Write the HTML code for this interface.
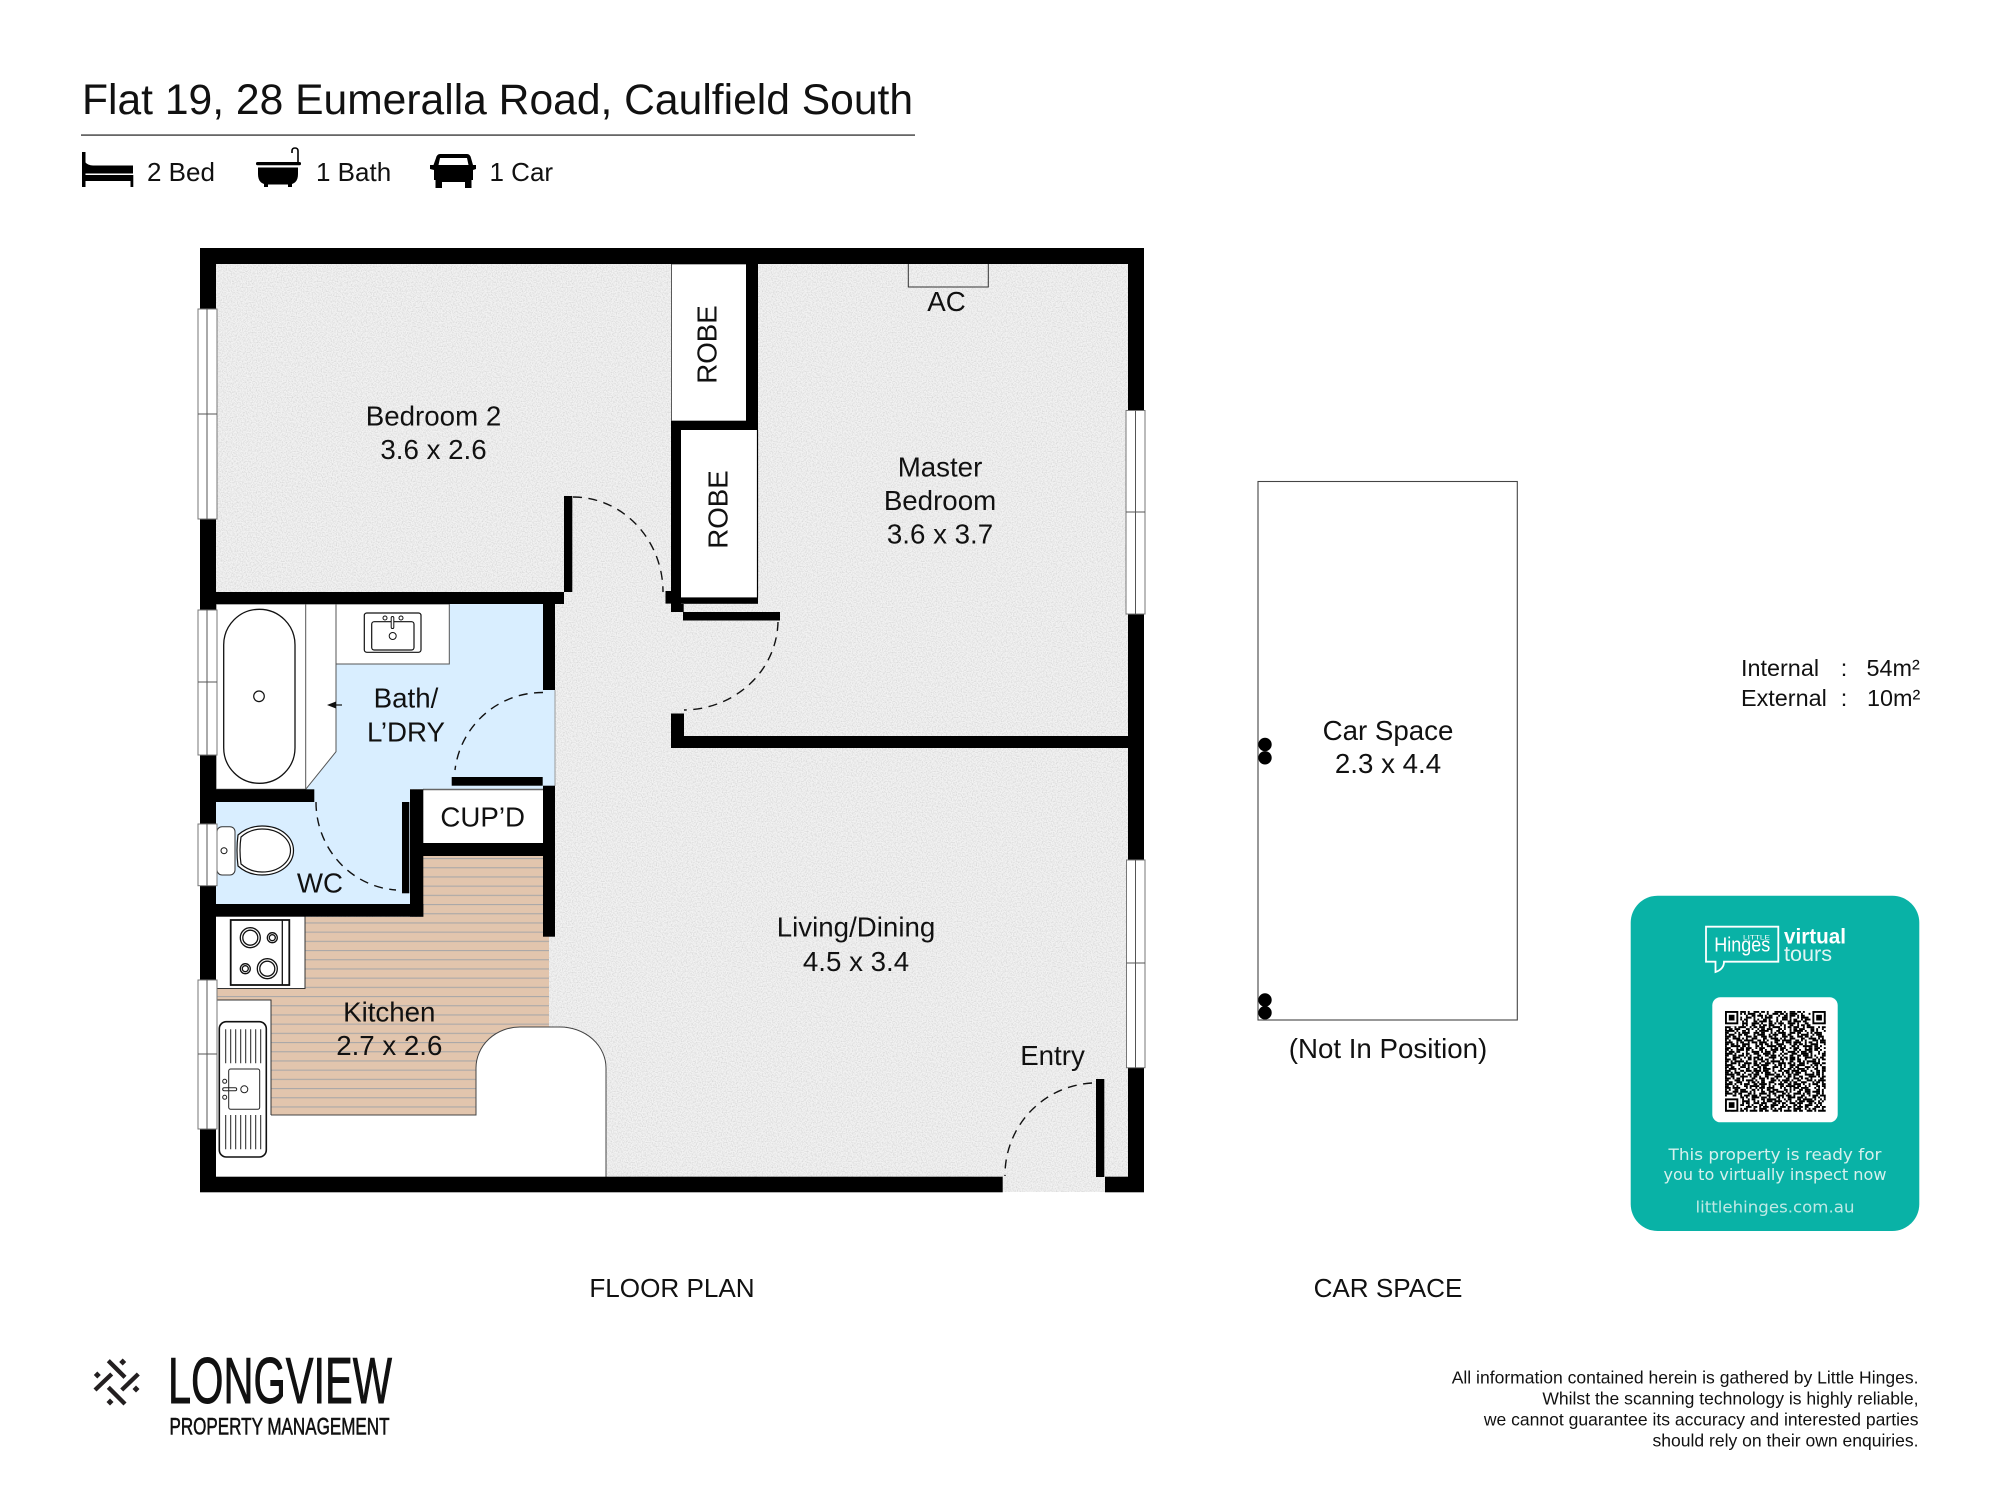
<!DOCTYPE html>
<html><head><meta charset="utf-8"><title>Flat 19, 28 Eumeralla Road</title>
<style>
html,body{margin:0;padding:0;background:#fff}
svg{display:block}
text{font-family:"Liberation Sans",Arial,sans-serif;fill:#111}
.l{font-size:27.7px;text-anchor:middle}
.d{fill:none;stroke:#111;stroke-width:1.4;stroke-dasharray:9 6.5}
.w{fill:#fff;stroke:#777;stroke-width:1}
.q path{fill:none;stroke:#000;stroke-width:1.02}
</style></head><body>
<svg width="2000" height="1500" viewBox="0 0 2000 1500" xmlns="http://www.w3.org/2000/svg">
<defs>
<filter id="n" x="0" y="0" width="1" height="1"><feTurbulence type="fractalNoise" baseFrequency=".8" numOctaves="2" seed="3"/><feColorMatrix values="0 0 0 0 .5 0 0 0 0 .5 0 0 0 0 .5 0 0 0 1.2 -.48"/></filter>
<pattern id="st" patternUnits="userSpaceOnUse" x="0" y="913.2" width="20" height="9.2"><rect width="20" height="9.2" fill="#e2c5ad"/><rect width="20" height="1.1" fill="#aaa8a8"/></pattern>
</defs>
<rect width="2000" height="1500" fill="#fff"/>

<!-- header -->
<text x="82" y="114" font-size="42.6">Flat 19, 28 Eumeralla Road, Caulfield South</text>
<rect x="81" y="134.3" width="834" height="1.6" fill="#555"/>
<text x="147" y="181" font-size="26">2 Bed</text>
<text x="316" y="181" font-size="26">1 Bath</text>
<text x="489.5" y="181" font-size="26">1 Car</text>
<!-- bed -->
<g fill="#000"><rect x="82" y="152" width="3.5" height="35"/><path d="M85 162q3 3.500 8 3.500H133v8H85z"/><rect x="82" y="175" width="51" height="6"/><rect x="130.5" y="175" width="2.8" height="12"/></g>
<!-- bath -->
<g fill="#000"><rect x="256" y="162" width="45" height="3.3" rx="1.5"/><path d="M258 167.500H298V174Q298 184.500 288 184.500H268Q258 184.500 258 174Z"/><rect x="264" y="183" width="4" height="4"/><rect x="288" y="183" width="4" height="4"/></g>
<path d="M298 163V151q0-3-3-3t-3 3v2" fill="none" stroke="#000" stroke-width="1.6"/>
<!-- car -->
<path d="M440 154H467Q470 154 471 158L473 165H476V169L473 170V180H471.500V188H465V182H442V188H435.500V180H434V170L430 169V165H433.500L436 158Q437 154 440 154ZM440 158L438.500 165H468.500L467 158Z" fill="#000" fill-rule="evenodd"/>

<!-- floor -->
<rect x="200" y="248" width="944" height="944" fill="#f2f2f2"/>
<rect x="200" y="248" width="944" height="944" filter="url(#n)"/>

<!-- blue rooms -->
<path d="M216 604H555V789H410V904H216Z" fill="#d9eeff"/>
<path d="M555 690V786" stroke="#999" stroke-width="1"/>
<!-- kitchen floor -->
<path d="M216 917H423V856H549V1028H520V1072H476V1115H216Z" fill="url(#st)"/>
<!-- counter -->
<path d="M216 1115H476V1068A44 41 0 0 1 520 1027H560A46 41 0 0 1 606 1068V1177H216Z" fill="#fff"/>
<path d="M271 1115H476V1068A44 41 0 0 1 520 1027H560A46 41 0 0 1 606 1068V1177" fill="none" stroke="#444" stroke-width="1"/>
<path d="M216 1000H271V1115H216Z" fill="#fff"/>
<path d="M216 1000H271V1115" fill="none" stroke="#333" stroke-width="1"/>
<!-- stove counter -->
<path d="M216 916H305V988.500H216Z" fill="#fff"/><path d="M305 916V988.500H216" fill="none" stroke="#333" stroke-width="1"/>
<rect x="230.700" y="920" width="58.600" height="65" fill="none" stroke="#111" stroke-width="1.800"/>
<path d="M282.300 920V985" stroke="#111" stroke-width="1.300"/>
<g fill="none" stroke="#111" stroke-width="1.300"><circle cx="250.300" cy="937.700" r="10"/><circle cx="250.300" cy="937.700" r="7.500"/><circle cx="272.300" cy="937.700" r="5"/><circle cx="272.300" cy="937.700" r="3"/><circle cx="245.300" cy="968.700" r="5"/><circle cx="245.300" cy="968.700" r="3"/><circle cx="267.300" cy="968.700" r="10"/><circle cx="267.300" cy="968.700" r="7.500"/></g>
<!-- kitchen sink -->
<rect x="219.300" y="1021.700" width="47" height="135.300" rx="7" fill="#fff" stroke="#111" stroke-width="1.600"/>
<rect x="228.700" y="1069" width="31" height="40.300" rx="2" fill="none" stroke="#222" stroke-width="1"/>
<path d="M225.700 1029.300v34M230.700 1029.300v34M235.700 1029.300v34M240.700 1029.300v34M245.700 1029.300v34M250.700 1029.300v34M255.700 1029.300v34M260.700 1029.300v34M225.700 1115v34.300M230.700 1115v34.300M235.700 1115v34.300M240.700 1115v34.300M245.700 1115v34.300M250.700 1115v34.300M255.700 1115v34.300M260.700 1115v34.300" stroke="#222" stroke-width="1"/>
<g fill="none" stroke="#222" stroke-width="1"><circle cx="224.700" cy="1081.300" r="2"/><circle cx="224.700" cy="1097.300" r="2"/><circle cx="244.300" cy="1089.300" r="3.500"/><rect x="222.700" y="1087.800" width="14" height="3" rx="1.500"/></g>

<!-- bath whites -->
<path d="M216 604H336V751.700L305.700 789.300H216Z" fill="#fff" stroke="#555" stroke-width="1"/>
<path d="M305.700 604V789" stroke="#555" stroke-width="1"/>
<rect x="223.700" y="609.300" width="71.300" height="174" rx="35.600" fill="#fff" stroke="#111" stroke-width="1.300"/>
<circle cx="259" cy="696.300" r="5.300" fill="none" stroke="#111" stroke-width="1.200"/>
<path d="M336 705H342" stroke="#111" stroke-width="1.200"/>
<path d="M327 705L336 701.500V708.500Z" fill="#111"/>
<!-- vanity -->
<rect x="336" y="604" width="113.300" height="60" fill="#fff" stroke="#555" stroke-width="1"/>
<rect x="364.300" y="613" width="56.700" height="39.300" rx="2.500" fill="none" stroke="#111" stroke-width="1.200"/>
<rect x="371.700" y="621.700" width="42.300" height="28.300" rx="2.500" fill="none" stroke="#111" stroke-width="1.200"/>
<g fill="#fff" stroke="#111" stroke-width="1"><circle cx="385" cy="618" r="2"/><circle cx="401" cy="618" r="2"/><rect x="391.200" y="616.500" width="2.600" height="12" rx="1.300"/><circle cx="392.700" cy="636" r="3.500"/></g>
<!-- toilet -->
<rect x="217" y="826.700" width="18" height="48.300" rx="5" fill="#fff" stroke="#333" stroke-width="1"/>
<circle cx="224" cy="850.700" r="3" fill="none" stroke="#111" stroke-width="1"/>
<path d="M238 835Q248 826 262 826C282 826 293.500 838 293.500 850.500C293.500 863 282 875 262 875Q248 875 238 866Q236 850 238 835Z" fill="#fff" stroke="#111" stroke-width="1.200"/>
<path d="M241 837Q250 829 262 829C280 829 290.500 840 290.500 850.500C290.500 861 280 872 262 872Q250 872 241 864Q239 850 241 837Z" fill="#fff" stroke="#111" stroke-width="1.200"/>
<!-- cupboard, robes -->
<rect x="423.300" y="789" width="120" height="54" fill="#fff"/>
<path d="M423 789.500H543" stroke="#666" stroke-width="1.500"/>
<rect x="671.500" y="264" width="75" height="157" fill="#fff" stroke="#333" stroke-width=".8"/>
<rect x="681" y="430" width="76.500" height="167.500" fill="#fff"/>
<path d="M757.500 430V597.500" stroke="#000" stroke-width="1.200"/>
<!-- AC -->
<path d="M908.300 264V287H988.300V264" fill="none" stroke="#333" stroke-width="1"/>

<!-- walls -->
<g fill="#000">
<rect x="200" y="248" width="944" height="16"/>
<rect x="200" y="248" width="16" height="944"/>
<rect x="1128" y="248" width="16" height="944"/>
<rect x="200" y="1176.700" width="802.700" height="15.600"/>
<rect x="1105" y="1176.700" width="39" height="15.600"/>
<rect x="1096" y="1079" width="8.300" height="98"/>
<rect x="200" y="592" width="364" height="12"/>
<rect x="564" y="496" width="8.300" height="96"/>
<rect x="543" y="604" width="12" height="86"/>
<rect x="451.700" y="777" width="91" height="8.700"/>
<rect x="543" y="785.700" width="12" height="151"/>
<rect x="410" y="789.300" width="13.300" height="127.400"/>
<rect x="423" y="843" width="120" height="13"/>
<rect x="402" y="802" width="7.300" height="91.300"/>
<rect x="216" y="789.300" width="98.300" height="12.700"/>
<rect x="200" y="904" width="223.300" height="12.700"/>
<rect x="746" y="264" width="12" height="166"/>
<rect x="671" y="421" width="87" height="9"/>
<rect x="671" y="421" width="10" height="191"/>
<rect x="671" y="597.400" width="87" height="6.400"/>
<rect x="665.500" y="591" width="6" height="12.600"/>
<rect x="671" y="604" width="12.700" height="8"/>
<rect x="683" y="612" width="97" height="8.500"/>
<rect x="671" y="713.500" width="13" height="23"/>
<rect x="671" y="736" width="473" height="12"/>
</g>

<!-- windows -->
<g>
<rect class="w" x="198" y="309" width="19" height="210"/><path d="M207 309V519M198 414H217" stroke="#555" stroke-width="1"/>
<rect class="w" x="198" y="610" width="19" height="145"/><path d="M207 610V755M198 682H217" stroke="#555" stroke-width="1"/>
<rect class="w" x="198" y="824" width="19" height="61.700"/><path d="M207 824V885.700" stroke="#555" stroke-width="1"/>
<rect class="w" x="198" y="980" width="19" height="149"/><path d="M207 980V1129M198 1054H217" stroke="#555" stroke-width="1"/>
<rect class="w" x="1126" y="410.500" width="19" height="203.500"/><path d="M1135.500 410.500V614M1126 512H1145" stroke="#555" stroke-width="1"/>
<rect class="w" x="1126.500" y="860" width="18.500" height="207.700"/><path d="M1135.500 860V1067.700M1126.500 963H1145" stroke="#555" stroke-width="1"/>
</g>

<!-- door swings -->
<path class="d" d="M573 497A90 95 0 0 1 663 592"/>
<path class="d" d="M778 622A95 90 0 0 1 684 710"/>
<path class="d" d="M543 692.500A88 88 0 0 0 455 770"/>
<path class="d" d="M316 802A86 88 0 0 0 396 890"/>
<path class="d" d="M1092 1083A92 92 0 0 0 1005 1176"/>

<!-- labels -->
<text class="l" x="433.500" y="425.700">Bedroom 2</text><text class="l" x="433.500" y="459">3.6 x 2.6</text>
<text class="l" x="946.500" y="311">AC</text>
<text class="l" x="940" y="476.600">Master</text><text class="l" x="940" y="510">Bedroom</text><text class="l" x="940" y="543.700">3.6 x 3.7</text>
<text class="l" transform="translate(716.500 344.500) rotate(-90)">ROBE</text>
<text class="l" transform="translate(727.500 509.500) rotate(-90)">ROBE</text>
<text class="l" x="406" y="707.700">Bath/</text><text class="l" x="406" y="741.300">L’DRY</text>
<text class="l" x="482.700" y="826.700">CUP’D</text>
<text class="l" x="320" y="892.300">WC</text>
<text class="l" x="389.300" y="1021.500">Kitchen</text><text class="l" x="389.300" y="1055">2.7 x 2.6</text>
<text class="l" x="856" y="936.700">Living/Dining</text><text class="l" x="856" y="971">4.5 x 3.4</text>
<text class="l" x="1052.500" y="1065">Entry</text>

<text x="672" y="1297" font-size="26.100" text-anchor="middle">FLOOR PLAN</text>
<text x="1388" y="1297" font-size="26.100" text-anchor="middle">CAR SPACE</text>

<!-- car space -->
<rect x="1258" y="481.500" width="259.300" height="538.500" fill="#fff" stroke="#444" stroke-width="1.100"/>
<circle cx="1265" cy="744.500" r="6.700" fill="#000"/><circle cx="1265" cy="757.800" r="6.700" fill="#000"/>
<circle cx="1265" cy="1000" r="6.700" fill="#000"/><circle cx="1265" cy="1012.700" r="6.700" fill="#000"/>
<text class="l" x="1388" y="739.800">Car Space</text><text class="l" x="1388" y="773">2.3 x 4.4</text>
<text class="l" x="1388" y="1058">(Not In Position)</text>

<!-- areas -->
<g font-size="23.400">
<text x="1741" y="676">Internal</text><text x="1844" y="676" text-anchor="middle">:</text><text x="1866.500" y="676">54m²</text>
<text x="1741" y="706">External</text><text x="1844" y="706" text-anchor="middle">:</text><text x="1867" y="706">10m²</text>
</g>

<!-- tour card -->
<rect x="1630.700" y="895.700" width="288.600" height="335.300" rx="27" fill="#09b2a6"/>
<g fill="none" stroke="#fff" stroke-width="1.800"><path d="M1706 926.700H1778.300V961.700H1724Q1724 969 1715.500 972V961.700H1706Z"/></g>
<text x="1714.300" y="951.700" font-size="20" style="fill:#fff" textLength="56" lengthAdjust="spacingAndGlyphs">Hinges</text>
<text x="1743" y="939.300" font-size="6" style="fill:#fff" textLength="27" lengthAdjust="spacingAndGlyphs">LITTLE</text>
<text x="1784" y="943.300" font-size="21" font-weight="bold" style="fill:#fff" textLength="62" lengthAdjust="spacingAndGlyphs">virtual</text>
<text x="1784" y="961" font-size="21" style="fill:#dff5f3" textLength="48" lengthAdjust="spacingAndGlyphs">tours</text>
<rect x="1712.300" y="997.300" width="125.400" height="125" rx="8" fill="#fff"/>
<g class="q" transform="translate(1725 1011) scale(1.900)">
<path d="M0 .5H53" stroke-dasharray="2 1 1 3 4 1 1 2 3 1"/>
<path d="M0 1.500H53" stroke-dasharray="1 2 3 1 2 1 1 1 4 2 1 3"/>
<path d="M0 2.500H53" stroke-dasharray="3 1 1 1 2 3 1 2 2 1"/>
<path d="M0 3.500H53" stroke-dasharray="1 1 4 2 1 2 3 1 1 3"/>
<path d="M0 4.500H53" stroke-dasharray="2 2 1 1 3 1 2 3 1 1 1"/>
<path d="M0 5.500H53" stroke-dasharray="4 1 2 2 1 1 1 3 2 1"/>
<path d="M0 6.500H53" stroke-dasharray="1 3 2 1 1 1 3 2 4 1"/>
<path d="M0 7.500H53" stroke-dasharray="2 1 3 3 1 1 1 2 2 2 1 1"/>
<path d="M0 8.500H53" stroke-dasharray="3 2 1 1 4 2 1 1 2 1"/>
<path d="M0 9.500H53" stroke-dasharray="1 1 2 1 3 3 2 1 1 2"/>
<path d="M0 10.500H53" stroke-dasharray="5 1 1 2 2 1 1 3 1 1"/>
<path d="M0 11.500H53" stroke-dasharray="2 3 1 1 1 1 4 2 3 1"/>
<path d="M0 12.500H53" stroke-dasharray="1 1 3 2 2 1 2 3 1 1 4 2"/>
<path d="M0 13.500H53" stroke-dasharray="3 1 2 1 1 3 3 1 2 2"/>
<path d="M0 14.500H53" stroke-dasharray="2 2 4 1 1 1 1 2 3 3"/>
<path d="M0 15.500H53" stroke-dasharray="1 1 1 3 3 1 5 2 2 1"/>
<path d="M0 16.500H53" stroke-dasharray="4 2 1 1 2 2 1 1 3 1"/>
<path d="M0 17.500H53" stroke-dasharray="2 1 2 1 1 2 4 3 1 1"/>
<path d="M0 18.500H53" stroke-dasharray="1 2 5 1 2 1 1 3 2 1"/>
<path d="M0 19.500H53" stroke-dasharray="3 3 1 1 2 1 3 2 1 1"/>
<path d="M0 20.500H53" stroke-dasharray="2 1 1 2 4 1 2 1 1 3"/>
<path d="M0 21.500H53" stroke-dasharray="1 1 3 1 2 3 1 2 4 1"/>
<path d="M0 22.500H53" stroke-dasharray="4 1 1 3 1 1 2 2 3 2"/>
<path d="M0 23.500H53" stroke-dasharray="2 2 2 1 3 1 1 1 1 3"/>
<path d="M0 24.500H53" stroke-dasharray="1 3 4 2 1 1 2 1 3 1"/>
<path d="M0 25.500H53" stroke-dasharray="3 1 2 2 1 3 2 1 1 1"/>
<path d="M0 26.500H53" stroke-dasharray="2 1 1 1 5 1 1 3 2 2"/>
<path d="M0 27.500H53" stroke-dasharray="1 2 3 1 1 2 4 1 2 1"/>
<path d="M0 28.500H53" stroke-dasharray="4 3 1 1 2 1 1 2 3 1"/>
<path d="M0 29.500H53" stroke-dasharray="2 1 2 3 3 1 1 1 1 2"/>
<path d="M0 30.500H53" stroke-dasharray="1 1 4 1 1 3 2 2 2 1"/>
<path d="M0 31.500H53" stroke-dasharray="3 2 1 2 2 1 3 1 4 1"/>
<path d="M0 32.500H53" stroke-dasharray="2 1 1 1 3 2 1 3 1 1"/>
<path d="M0 33.500H53" stroke-dasharray="5 1 2 1 1 2 2 1 3 3"/>
<path d="M0 34.500H53" stroke-dasharray="1 2 2 3 4 1 1 1 2 1"/>
<path d="M0 35.500H53" stroke-dasharray="3 1 1 1 2 1 1 4 2 2"/>
<path d="M0 36.500H53" stroke-dasharray="2 3 3 1 1 1 4 1 1 2"/>
<path d="M0 37.500H53" stroke-dasharray="1 1 2 2 3 3 1 1 2 1"/>
<path d="M0 38.500H53" stroke-dasharray="4 1 1 2 1 1 3 2 2 1"/>
<path d="M0 39.500H53" stroke-dasharray="2 2 1 1 1 3 2 1 5 1"/>
<path d="M0 40.500H53" stroke-dasharray="3 1 4 3 1 1 1 2 1 1"/>
<path d="M0 41.500H53" stroke-dasharray="1 1 1 2 2 1 3 3 2 1"/>
<path d="M0 42.500H53" stroke-dasharray="2 2 3 1 4 1 1 1 1 3"/>
<path d="M0 43.500H53" stroke-dasharray="4 1 1 1 2 3 2 1 1 2"/>
<path d="M0 44.500H53" stroke-dasharray="1 3 2 2 1 1 3 1 3 1"/>
<path d="M0 45.500H53" stroke-dasharray="3 1 1 3 2 1 1 2 4 1"/>
<path d="M0 46.500H53" stroke-dasharray="2 1 5 1 1 2 1 1 2 3"/>
<path d="M0 47.500H53" stroke-dasharray="1 2 1 1 3 1 4 2 1 1"/>
<path d="M0 48.500H53" stroke-dasharray="3 3 2 1 1 1 2 2 3 1"/>
<path d="M0 49.500H53" stroke-dasharray="2 1 1 2 4 2 1 1 1 3"/>
<path d="M0 50.500H53" stroke-dasharray="1 1 3 1 2 3 3 1 2 1"/>
<path d="M0 51.500H53" stroke-dasharray="4 2 1 1 1 1 2 3 1 2"/>
<path d="M0 52.500H53" stroke-dasharray="2 1 2 2 3 1 1 1 4 1"/>
<rect x="0" y="0" width="8" height="8" fill="#fff"/><rect x="45" y="0" width="8" height="8" fill="#fff"/><rect x="0" y="45" width="8" height="8" fill="#fff"/>
<g fill="none" stroke="#000" stroke-width="1"><rect x=".5" y=".5" width="6" height="6"/><rect x="46.500" y=".5" width="6" height="6"/><rect x=".5" y="46.500" width="6" height="6"/></g>
<rect x="2" y="2" width="3" height="3" fill="#000"/><rect x="48" y="2" width="3" height="3" fill="#000"/><rect x="2" y="48" width="3" height="3" fill="#000"/>
</g>
<text x="1775" y="1160" font-size="16" text-anchor="middle" style="font-family:'DejaVu Sans',sans-serif;fill:#d6f1ee" textLength="213" lengthAdjust="spacingAndGlyphs">This property is ready for</text>
<text x="1775" y="1180" font-size="16" text-anchor="middle" style="font-family:'DejaVu Sans',sans-serif;fill:#d6f1ee" textLength="223" lengthAdjust="spacingAndGlyphs">you to virtually inspect now</text>
<text x="1775" y="1212.700" font-size="16" text-anchor="middle" style="font-family:'DejaVu Sans',sans-serif;fill:#bfe9e5" textLength="159" lengthAdjust="spacingAndGlyphs">littlehinges.com.au</text>

<!-- longview logo -->
<g stroke="#231f20" stroke-width="4.300" fill="none"><path d="M108.300 1360.700L125 1377.300M138.300 1374L121.700 1390M108.300 1387.300L125 1404M95 1390L111.700 1374"/></g>
<g fill="#231f20"><path d="M122.700 1358.500l3.500 3.500-3.500 3.500-3.500-3.500zM97.300 1371.500l3.500 3.500-3.500 3.500-3.500-3.500zM136 1385.500l3.500 3.500-3.500 3.500-3.500-3.500zM110 1398.500l3.500 3.500-3.500 3.500-3.500-3.500z"/></g>
<text x="168" y="1403" font-size="65" textLength="224" lengthAdjust="spacingAndGlyphs" style="fill:#111;stroke:#111;stroke-width:.9">LONGVIEW</text>
<text x="169.500" y="1434.300" font-size="24.500" textLength="220" lengthAdjust="spacingAndGlyphs" style="fill:#111;stroke:#111;stroke-width:.6">PROPERTY MANAGEMENT</text>

<!-- legal -->
<g font-size="17.540" text-anchor="end">
<text x="1918.500" y="1383.500">All information contained herein is gathered by Little Hinges.</text>
<text x="1918.500" y="1404.500">Whilst the scanning technology is highly reliable,</text>
<text x="1918.500" y="1425.500">we cannot guarantee its accuracy and interested parties</text>
<text x="1918.500" y="1446.500">should rely on their own enquiries.</text>
</g>
</svg>
</body></html>
